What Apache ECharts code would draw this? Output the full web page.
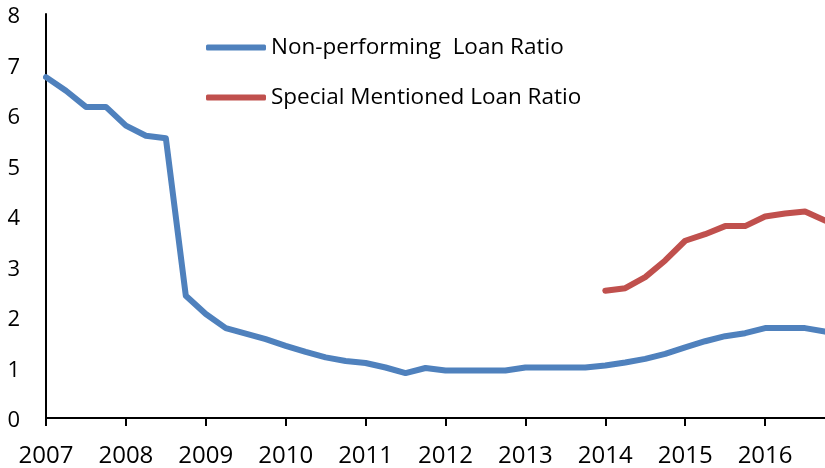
<!DOCTYPE html>
<html>
<head>
<meta charset="utf-8">
<script src="https://cdn.jsdelivr.net/npm/echarts@6/dist/echarts.min.js"></script>
<style>
html, body { margin: 0; padding: 0; background: #fff; }
#chart { width: 825px; height: 468px; }
</style>
</head>
<body>
<div id="chart"></div>
<script>
// quarterly points, 2007Q1 .. 2016Q4
var quarters = [
  '2007Q1', '2007Q2', '2007Q3', '2007Q4',
  '2008Q1', '2008Q2', '2008Q3', '2008Q4',
  '2009Q1', '2009Q2', '2009Q3', '2009Q4',
  '2010Q1', '2010Q2', '2010Q3', '2010Q4',
  '2011Q1', '2011Q2', '2011Q3', '2011Q4',
  '2012Q1', '2012Q2', '2012Q3', '2012Q4',
  '2013Q1', '2013Q2', '2013Q3', '2013Q4',
  '2014Q1', '2014Q2', '2014Q3', '2014Q4',
  '2015Q1', '2015Q2', '2015Q3', '2015Q4',
  '2016Q1', '2016Q2', '2016Q3', '2016Q4'
];
var nplRatio = [
  6.75, 6.48, 6.16, 6.16,
  5.79, 5.59, 5.54, 2.42,
  2.06, 1.78, 1.67, 1.56,
  1.43, 1.31, 1.20, 1.13,
  1.09, 1.00, 0.89, 0.99,
  0.94, 0.94, 0.94, 0.94,
  1.00, 1.00, 1.00, 1.00,
  1.04, 1.10, 1.17, 1.27,
  1.40, 1.52, 1.62, 1.68,
  1.78, 1.78, 1.78, 1.71
];
var smlRatio = [
  null, null, null, null,
  null, null, null, null,
  null, null, null, null,
  null, null, null, null,
  null, null, null, null,
  null, null, null, null,
  null, null, null, null,
  2.52, 2.57, 2.79, 3.12,
  3.51, 3.64, 3.80, 3.80,
  3.99, 4.05, 4.09, 3.91
];
var yTicks = [0, 8, 1]; // min, max, step

var FONT = 'Open Sans';

var chart = echarts.init(document.getElementById('chart'));
var option = {
  animation: false,
  grid: { left: 46, right: 0, top: 14, bottom: 49 },
  legend: {
    orient: 'vertical',
    left: 201,
    top: 31,
    itemWidth: 60,
    itemHeight: 6,
    itemGap: 27,
    icon: 'roundRect',
    textStyle: { fontFamily: FONT, fontSize: 22.5, color: '#000' },
    data: ['Non-performing  Loan Ratio', 'Special Mentioned Loan Ratio']
  },
  xAxis: {
    type: 'category',
    boundaryGap: false,
    data: quarters,
    axisLine: { lineStyle: { color: '#000', width: 2 } },
    axisTick: { interval: 3, length: 8, lineStyle: { color: '#000', width: 2 } },
    axisLabel: {
      interval: 3,
      margin: 26,
      fontFamily: FONT,
      fontSize: 24,
      color: '#000',
      formatter: function (v) { return v.slice(0, 4); }
    },
    splitLine: { show: false }
  },
  yAxis: {
    type: 'value',
    min: yTicks[0],
    max: yTicks[1],
    interval: yTicks[2],
    axisLine: { show: true, lineStyle: { color: '#000', width: 2 } },
    axisTick: { show: false },
    axisLabel: {
      margin: 26,
      verticalAlign: 'top',
      lineHeight: 6,
      fontFamily: FONT,
      fontSize: 22,
      color: '#000'
    },
    splitLine: { show: false }
  },
  series: [
    {
      name: 'Non-performing  Loan Ratio',
      type: 'line',
      data: nplRatio,
      symbol: 'none',
      color: '#4F81BD',
      lineStyle: { width: 6, color: '#4F81BD', cap: 'round', join: 'round' }
    },
    {
      name: 'Special Mentioned Loan Ratio',
      type: 'line',
      data: smlRatio,
      symbol: 'none',
      color: '#C0504D',
      lineStyle: { width: 6, color: '#C0504D', cap: 'round', join: 'round' }
    }
  ]
};
chart.setOption(option);
</script>
</body>
</html>
